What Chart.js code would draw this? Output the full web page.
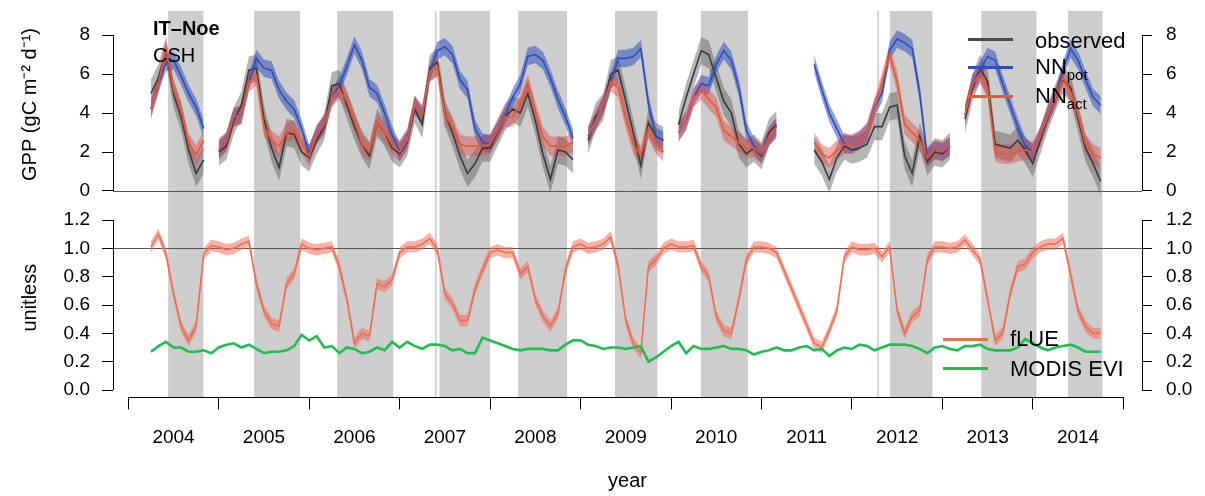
<!DOCTYPE html>
<html>
<head>
<meta charset="utf-8">
<title>IT-Noe CSH</title>
<script src="https://cdn.jsdelivr.net/npm/chart.js@4.4.1/dist/chart.umd.min.js"></script>
<style>
  body { margin: 0; background: #fff; }
  #wrap { position: relative; width: 1205px; height: 496px; overflow: hidden; font-family: "Liberation Sans", Arial, sans-serif; color: #000; }
  canvas { position: absolute; left: 0; }
  #gppChart { top: 0; }
  #flueChart { top: 198px; }
  .txt { position: absolute; white-space: nowrap; line-height: 22px; }
  .key { position: absolute; height: 3px; width: 45px; }
  .txt sub { font-size: 15px; vertical-align: -6px; line-height: 0; }
</style>
</head>
<body>
<div id="wrap">
  <canvas id="gppChart" width="1205" height="198"></canvas>
  <canvas id="flueChart" width="1205" height="298"></canvas>

  <div class="txt" style="left:153px;top:17px;font-size:20px;font-weight:bold;">IT–Noe</div>
  <div class="txt" style="left:153px;top:44px;font-size:20px;">CSH</div>

  <div class="key" style="left:968px;top:38px;background:#4a4a4a"></div>
  <div class="txt" style="left:1035px;top:30px;font-size:22px;">observed</div>
  <div class="key" style="left:968px;top:66px;background:#2e4fb8"></div>
  <div class="txt" style="left:1035px;top:56px;font-size:22px;">NN<sub>pot</sub></div>
  <div class="key" style="left:968px;top:95px;background:#f0552e"></div>
  <div class="txt" style="left:1035px;top:85px;font-size:22px;">NN<sub>act</sub></div>

  <div class="key" style="left:943px;top:338px;background:#f36b4e"></div>
  <div class="txt" style="left:1010px;top:328px;font-size:22px;">fLUE</div>
  <div class="key" style="left:943px;top:367px;background:#1fbf4f"></div>
  <div class="txt" style="left:1010px;top:358px;font-size:22px;">MODIS EVI</div>
</div>

<script>
// monthly samples, first one at April 2004
const firstMonth = 2004.25;

// GPP (gC m-2 d-1), one row per year
const obsGpp = [
  5.0, 5.8, 7.2, 5.0, 3.8, 2.1, 0.9, 1.6, null,
  2.0, 2.3, 3.6, 4.4, 6.2, 6.3, 3.7, 2.2, 1.2, 3.0, 2.9, 2.0,
  1.7, 2.6, 3.3, 5.4, 5.5, 4.4, 3.3, 2.4, 1.8, 3.5, 3.0, 2.2,
  1.9, 2.5, 4.2, 3.4, 6.3, 6.6, 4.0, 3.0, 1.8, 0.9, 1.4, 2.2,
  2.2, 3.0, 3.8, 4.2, 4.0, 5.0, 3.6, 1.9, 0.6, 2.1, 2.0, 1.6,
  null, 2.6, 3.8, 4.3, 6.0, 6.2, 4.6, 3.0, 1.3, 3.5, 2.8, 2.6,
  null, 3.4, 4.8, 6.0, 7.2, 7.0, 5.8, 4.6, 4.0, 2.4, 1.9, 2.2,
  1.8, 3.0, 3.4, null, null, null, null, 2.1, 1.5, 0.6, 1.7, 2.3,
  2.1, 2.2, 2.4, 3.3, 3.3, 4.3, 4.4, 1.8, 0.9, 2.8, 1.5, 2.0,
  1.9, 2.3, null, 3.7, 5.3, 6.3, 5.6, 2.4, 2.3, 2.2, 2.6, 2.1,
  1.4, 2.6, 3.8, 4.8, 5.7, 5.3, 3.7, 2.2, 1.4, 0.5
];
const potGpp = [
  4.2, 5.5, 6.6, 6.7, 5.9, 5.0, 4.3, 3.2, null,
  2.1, 2.5, 3.8, 3.9, 5.6, 6.8, 6.3, 6.2, 5.2, 4.6, 4.2, 3.2,
  1.9, 2.9, 3.4, 4.8, 5.4, 6.4, 7.5, 6.7, 5.3, 5.0, 4.0, 2.9,
  2.0, 2.6, 4.4, 3.9, 6.1, 7.2, 7.4, 7.0, 5.7, 5.2, 3.2, 2.5,
  2.4, 3.1, 3.9, 4.8, 5.5, 6.9, 7.0, 6.7, 5.8, 4.7, 3.8, 2.7,
  null, 2.8, 3.6, 4.4, 5.6, 6.8, 6.8, 6.9, 7.3, 4.5, 2.8, 2.6,
  null, 3.0, 3.6, 4.8, 5.5, 5.4, 6.5, 7.2, 6.7, 5.3, 3.1, 2.3,
  1.9, 2.8, 3.3, null, null, null, null, 6.5, 5.2, 4.0, 3.2, 2.4,
  2.4, 2.6, 3.0, 4.3, 5.0, 7.2, 7.8, 7.6, 7.3, 5.0, 1.7, 2.1,
  2.0, 2.3, null, 3.9, 5.5, 6.2, 6.9, 6.7, 5.5, 4.4, 3.3, 2.3,
  2.0, 2.8, 3.9, 4.8, 6.2, 7.3, 6.7, 5.7, 4.8, 4.4
];
const actGpp = [
  4.2, 5.5, 7.3, 5.2, 4.1, 2.45, 1.85, 2.6, null,
  2.1, 2.5, 3.8, 3.9, 5.6, 5.9, 3.3, 2.6, 2.3, 3.0, 3.1, 2.4,
  1.8, 2.9, 3.4, 4.8, 5.2, 4.6, 3.6, 2.4, 2.0, 3.5, 3.0, 2.4,
  2.0, 2.6, 4.4, 3.9, 6.1, 6.4, 3.9, 3.3, 2.4, 2.3, 2.3, 2.3,
  2.4, 3.1, 3.8, 3.8, 4.4, 5.5, 4.1, 2.8, 2.3, 2.3, 2.3, 2.5,
  null, 2.8, 3.6, 4.4, 5.6, 5.3, 3.7, 2.4, 1.8, 3.2, 2.4, 2.0,
  null, 3.0, 3.6, 4.8, 5.2, 4.7, 4.3, 3.1, 2.8, 2.5, 2.2, 2.2,
  1.9, 2.8, 3.3, null, null, null, null, 2.5, 1.9, 1.7, 2.1, 2.4,
  2.4, 2.6, 3.0, 4.2, 5.6, 7.0, 5.6, 3.4, 3.0, 2.6, 1.7, 2.1,
  2.0, 2.3, null, 3.9, 5.5, 6.0, 5.3, 2.0, 1.9, 1.9, 2.0, 2.1,
  2.0, 2.8, 3.9, 4.8, 5.8, 5.1, 3.9, 2.4, 1.9, 1.7
];

// unitless panel
const fLue = [
  1.01, 1.10, 0.96, 0.68, 0.45, 0.35, 0.45, 0.96, 1.02,
  1.01, 0.99, 1.00, 1.03, 1.05, 0.75, 0.56, 0.47, 0.45, 0.75, 0.82, 1.03,
  1.00, 0.99, 1.00, 1.01, 0.87, 0.64, 0.33, 0.40, 0.38, 0.75, 0.73, 0.78,
  0.97, 1.01, 1.01, 1.03, 1.07, 0.99, 0.68, 0.61, 0.49, 0.49, 0.71, 0.85,
  0.97, 0.99, 0.97, 0.97, 0.82, 0.87, 0.64, 0.52, 0.45, 0.54, 0.85, 1.01,
  1.03, 1.00, 1.01, 1.03, 1.08, 0.87, 0.49, 0.33, 0.26, 0.87, 0.92, 1.00,
  1.03, 1.01, 1.01, 1.02, 0.87, 0.80, 0.52, 0.42, 0.40, 0.64, 0.92, 1.01,
  1.01, 1.00, 0.97, null, null, null, null, 0.33, 0.30, 0.42, 0.56, 0.94,
  1.01, 0.99, 0.99, 1.00, 0.94, 1.01, 0.56, 0.40, 0.52, 0.56, 0.92, 1.01,
  1.01, 1.00, 1.01, 1.06, 0.99, 0.92, 0.64, 0.35, 0.40, 0.68, 0.87, 0.89,
  0.97, 1.01, 1.03, 1.03, 1.07, 0.82, 0.56, 0.45, 0.40, 0.40
];
const modisEvi = [
  0.27, 0.31, 0.34, 0.30, 0.30, 0.27, 0.27, 0.28, 0.26,
  0.30, 0.32, 0.33, 0.30, 0.32, 0.29, 0.26, 0.27, 0.27, 0.28, 0.31, 0.39,
  0.35, 0.38, 0.30, 0.31, 0.26, 0.30, 0.29, 0.26, 0.27, 0.30, 0.28, 0.34,
  0.30, 0.34, 0.31, 0.29, 0.32, 0.32, 0.31, 0.28, 0.29, 0.26, 0.26, 0.37,
  0.35, 0.33, 0.31, 0.29, 0.28, 0.29, 0.29, 0.29, 0.28, 0.28, 0.32, 0.35,
  0.35, 0.32, 0.31, 0.29, 0.30, 0.30, 0.29, 0.30, 0.31, 0.20, 0.23, 0.27,
  0.31, 0.34, 0.26, 0.31, 0.29, 0.29, 0.30, 0.31, 0.29, 0.29, 0.28, 0.25,
  0.27, 0.28, 0.30, 0.28, 0.28, 0.30, 0.31, 0.28, 0.29, 0.24, 0.28, 0.30,
  0.29, 0.32, 0.31, 0.28, 0.30, 0.32, 0.32, 0.32, 0.31, 0.29, 0.26, 0.30,
  0.31, 0.29, 0.28, 0.31, 0.31, 0.32, 0.29, 0.28, 0.28, 0.28, 0.30, 0.36,
  0.33, 0.30, 0.28, 0.30, 0.31, 0.32, 0.30, 0.27, 0.27, 0.27
];

// half width of the uncertainty bands
const obsSpread = 0.7;
const potSpread = 0.45;
const actSpread = 0.5;
const fLueSpread = 0.04;

// drought periods (grey) and the two thin marks
const droughtStart = [2004.44, 2005.39, 2006.31, 2007.44, 2008.31, 2009.38, 2010.33, 2012.42, 2013.43, 2014.39];
const droughtEnd   = [2004.83, 2005.90, 2006.93, 2008.00, 2008.85, 2009.85, 2010.85, 2012.89, 2014.04, 2014.77];
const gapMarks = [2007.40, 2012.29];

const yearTicks = [2004, 2005, 2006, 2007, 2008, 2009, 2010, 2011, 2012, 2013, 2014, 2015];
const gppTicks = [0, 2, 4, 6, 8];
const unitTicks = [0, 0.2, 0.4, 0.6, 0.8, 1.0, 1.2];

const t = obsGpp.map((_, i) => firstMonth + i / 12);
const pts = (vals, shift) => vals.map((v, i) => ({ x: t[i], y: v === null ? null : v + shift }));

const fontFam = '"Liberation Sans", Arial, sans-serif';
const tickFont = { family: fontFam, size: 19 };
const titleFont = { family: fontFam, size: 20 };

// R-like decorations: drought bands, reference line, axis lines between first and last tick
const rStyle = {
  id: 'rStyle',
  beforeDatasetsDraw(chart, args, opts) {
    const { ctx, chartArea: a, scales } = chart;
    const x = scales.x;
    ctx.save();
    ctx.fillStyle = '#cdcdcd';
    droughtStart.forEach((s, i) => {
      const x0 = x.getPixelForValue(s);
      ctx.fillRect(x0, a.top, x.getPixelForValue(droughtEnd[i]) - x0, a.bottom - a.top);
    });
    ctx.strokeStyle = '#d4d4d4';
    ctx.lineWidth = 2;
    gapMarks.forEach(g => {
      const gx = x.getPixelForValue(g);
      ctx.beginPath(); ctx.moveTo(gx, a.top); ctx.lineTo(gx, a.bottom); ctx.stroke();
    });
    const yy = Math.round(scales.y.getPixelForValue(opts.refLine)) + 0.5;
    ctx.strokeStyle = '#555';
    ctx.lineWidth = 1;
    ctx.beginPath(); ctx.moveTo(a.left, yy); ctx.lineTo(a.right, yy); ctx.stroke();
    ctx.restore();
  },
  afterDraw(chart) {
    const { ctx, chartArea: a } = chart;
    ctx.save();
    ctx.strokeStyle = '#000';
    ctx.lineWidth = 1;
    Object.values(chart.scales).forEach(s => {
      if (!s.options.display || !s.ticks.length) return;
      const v0 = s.ticks[0].value, v1 = s.ticks[s.ticks.length - 1].value;
      ctx.beginPath();
      if (s.isHorizontal()) {
        const y = Math.round(a.bottom) + 0.5;
        ctx.moveTo(s.getPixelForValue(v0), y); ctx.lineTo(s.getPixelForValue(v1), y);
      } else {
        const xx = (s.position === 'left' ? Math.round(a.left) : Math.round(a.right)) + 0.5;
        ctx.moveTo(xx, s.getPixelForValue(v0)); ctx.lineTo(xx, s.getPixelForValue(v1));
      }
      ctx.stroke();
    });
    ctx.restore();
  }
};

function yAxis(side, min, max, tickList, fmt, title) {
  return {
    position: side, min: min, max: max,
    afterBuildTicks: s => { s.ticks = tickList.map(v => ({ value: v })); },
    afterFit: s => { s.width = side === 'left' ? 113 : 63; s.paddingTop = 0; s.paddingBottom = 0; },
    border: { display: false },
    grid: { drawOnChartArea: false, drawTicks: true, tickLength: side === 'left' ? 11 : 10, tickColor: '#000', tickWidth: 1 },
    ticks: { color: '#000', font: tickFont, padding: side === 'left' ? 12 : 14, callback: v => fmt(v) },
    title: title
      ? { display: true, text: title, color: '#000', font: titleFont, padding: { top: 18, bottom: 0 } }
      : { display: false }
  };
}

const xMin = 2003.831, xMax = 2015.207;
const lineDs = (label, data, color, width, order, spanGaps) => ({
  label, data, borderColor: color, borderWidth: width, backgroundColor: color,
  fill: false, order, spanGaps: !!spanGaps
});
const bandDs = (data, color, order, spanGaps, filled) => ({
  data, borderWidth: 0, borderColor: 'rgba(0,0,0,0)', backgroundColor: color,
  fill: filled ? '-1' : false, order, spanGaps: !!spanGaps
});

const common = {
  responsive: false,
  animation: false,
  events: [],
  elements: { point: { radius: 0 }, line: { tension: 0 } },
  plugins: { legend: { display: false }, tooltip: { enabled: false } }
};

new Chart(document.getElementById('gppChart'), {
  type: 'line',
  data: {
    datasets: [
      bandDs(pts(obsGpp, -obsSpread), 'rgba(90,90,90,0.45)', 10),
      bandDs(pts(obsGpp, obsSpread), 'rgba(90,90,90,0.45)', 10, false, true),
      bandDs(pts(potGpp, -potSpread), 'rgba(50,80,190,0.55)', 8),
      bandDs(pts(potGpp, potSpread), 'rgba(50,80,190,0.55)', 8, false, true),
      bandDs(pts(actGpp, -actSpread), 'rgba(220,70,70,0.45)', 6),
      bandDs(pts(actGpp, actSpread), 'rgba(220,70,70,0.45)', 6, false, true),
      lineDs('observed', pts(obsGpp, 0), '#3a3a3a', 1.6, 3),
      lineDs('NNpot', pts(potGpp, 0), '#2e4fb8', 1.6, 2),
      lineDs('NNact', pts(actGpp, 0), '#f0552e', 1.6, 1)
    ]
  },
  options: Object.assign({}, common, {
    layout: { padding: { top: 11, bottom: 0, left: 0, right: 0 } },
    plugins: Object.assign({}, common.plugins, { rStyle: { refLine: 0 } }),
    scales: {
      x: { type: 'linear', min: xMin, max: xMax, display: false },
      y: yAxis('left', -0.359, 9.231, gppTicks, v => String(v), 'GPP (gC m\u207B\u00B2 d\u207B\u00B9)'),
      yr: yAxis('right', -0.359, 9.231, gppTicks, v => String(v))
    }
  }),
  plugins: [rStyle]
});

new Chart(document.getElementById('flueChart'), {
  type: 'line',
  data: {
    datasets: [
      bandDs(pts(fLue, -fLueSpread), 'rgba(240,100,80,0.5)', 5, true),
      bandDs(pts(fLue, fLueSpread), 'rgba(240,100,80,0.5)', 5, true, true),
      lineDs('fLUE', pts(fLue, 0), '#f36b4e', 1.5, 2, true),
      lineDs('MODIS EVI', pts(modisEvi, 0), '#1fbf4f', 2.6, 1)
    ]
  },
  options: Object.assign({}, common, {
    layout: { padding: 0 },
    plugins: Object.assign({}, common.plugins, { rStyle: { refLine: 1 } }),
    scales: {
      x: {
        type: 'linear', min: xMin, max: xMax, position: 'bottom',
        afterBuildTicks: s => {
          const tk = yearTicks.map(v => ({ value: v }));
          yearTicks.slice(0, -1).forEach(v => tk.push({ value: v + 0.5 }));
          s.ticks = tk.sort((a, b) => a.value - b.value);
        },
        afterFit: s => { s.height = 98.6; s.paddingLeft = 0; s.paddingRight = 0; },
        border: { display: false },
        grid: {
          drawOnChartArea: false, tickLength: 12, tickWidth: 1,
          tickColor: c => (c.tick && Number.isInteger(c.tick.value)) ? '#000' : 'rgba(0,0,0,0)'
        },
        ticks: {
          autoSkip: false, maxRotation: 0, color: '#000', font: tickFont, padding: 17,
          callback: v => Number.isInteger(v) ? '' : String(Math.floor(v))
        },
        title: { display: true, text: 'year', color: '#000', font: titleFont, padding: { top: 0, bottom: 3 } }
      },
      y: yAxis('left', -0.0522, 1.3553, unitTicks, v => v.toFixed(1), 'unitless'),
      yr: yAxis('right', -0.0522, 1.3553, unitTicks, v => v.toFixed(1))
    }
  }),
  plugins: [rStyle]
});
</script>
</body>
</html>
